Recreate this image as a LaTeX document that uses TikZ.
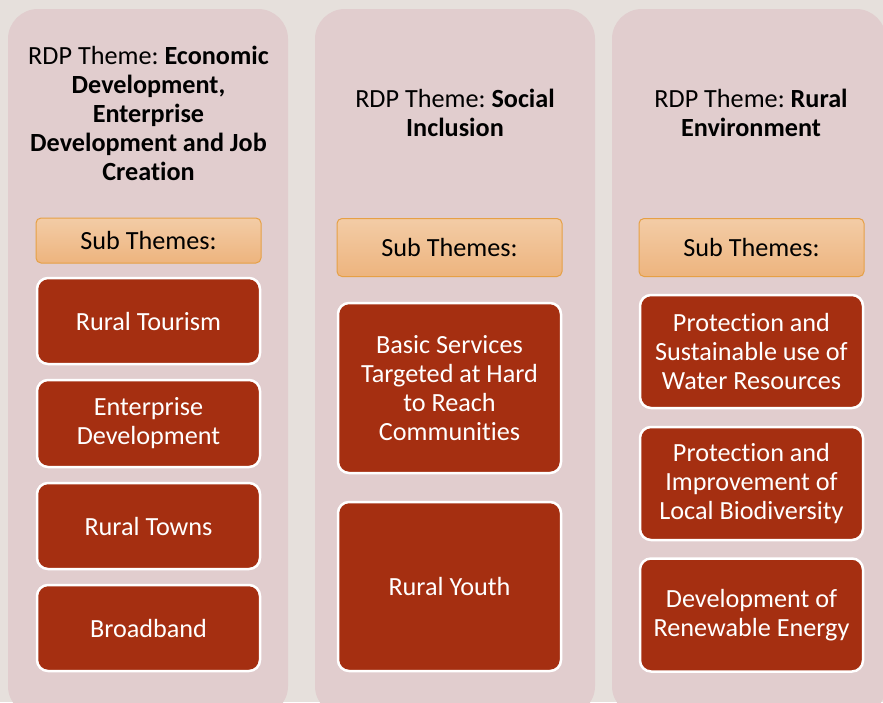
\documentclass[tikz,border=0pt]{standalone}
\usepackage{fontspec}
\setmainfont[Ligatures=NoCommon]{Carlito}
\frenchspacing
\definecolor{bgc}{HTML}{E6E0DC}
\definecolor{colc}{HTML}{E1CDCE}
\definecolor{redc}{HTML}{A52F11}
\definecolor{subtop}{HTML}{F3CCA6}
\definecolor{subbot}{HTML}{EDB47E}
\definecolor{subline}{HTML}{E6A045}
\begin{document}
\begin{tikzpicture}[x=1pt,y=-1pt,
  column/.style={fill=colc, rounded corners=30pt},
  titletext/.style={align=center, font=\fontsize{26.2}{29}\selectfont\frenchspacing, text=black, inner sep=0pt},
  subbox/.style={draw=subline, line width=1pt, rounded corners=5pt, top color=subtop, bottom color=subbot,
    minimum width=225pt, font=\fontsize{26.2}{29}\selectfont, inner sep=0pt},
  redbox/.style={draw=white, fill=redc, line width=2.5pt, rounded corners=11pt,
    minimum width=223pt, text=white, align=center, font=\fontsize{26.2}{29}\selectfont, inner sep=0pt}]
\useasboundingbox (0,0) rectangle (883,702);
\fill[bgc] (0,0) rectangle (883,702);
% columns
\path[column] (8,9) rectangle (288,716);
\path[column] (315,9) rectangle (595,716);
\path[column] (612,9) rectangle (886,716);
% titles
\node[titletext] (t1) at (148.5,113) {RDP Theme: \textbf{Economic}\\\textbf{Development,}\\\textbf{Enterprise}\\\textbf{Development and Job}\\\textbf{Creation}};
\node[titletext] (t2) at (455,113) {RDP Theme: \textbf{Social}\\\textbf{Inclusion}};
\node[titletext] (t3) at (751,113) {RDP Theme: \textbf{Rural}\\\textbf{Environment}};
% sub theme boxes
\node[subbox, minimum height=45pt] (s1) at (148.5,240.5) {Sub Themes:};
\node[subbox, minimum height=58pt] (s2) at (449.5,247.5) {Sub Themes:};
\node[subbox, minimum height=58pt] (s3) at (751.5,247.5) {Sub Themes:};
% column 1
\node[redbox, minimum height=86pt] (a1) at (148.5,321) {Rural Tourism};
\node[redbox, minimum height=87pt] (a2) at (148.5,423.5) {Enterprise\\Development};
\node[redbox, minimum height=86pt] (a3) at (148.5,526) {Rural Towns};
\node[redbox, minimum height=86pt] (a4) at (148.5,628) {Broadband};
% column 2
\node[redbox, minimum height=170pt] (b1) at (449.5,388) {Basic Services\\Targeted at Hard\\to Reach\\Communities};
\node[redbox, minimum height=169pt] (b2) at (449.5,586.5) {Rural Youth};
% column 3
\node[redbox, minimum height=113pt] (c1) at (751.5,351.5) {Protection and\\Sustainable use of\\Water Resources};
\node[redbox, minimum height=113pt] (c2) at (751.5,483.5) {Protection and\\Improvement of\\Local Biodiversity};
\node[redbox, minimum height=113pt] (c3) at (751.5,615) {Development of\\Renewable Energy};
\end{tikzpicture}
\end{document}
